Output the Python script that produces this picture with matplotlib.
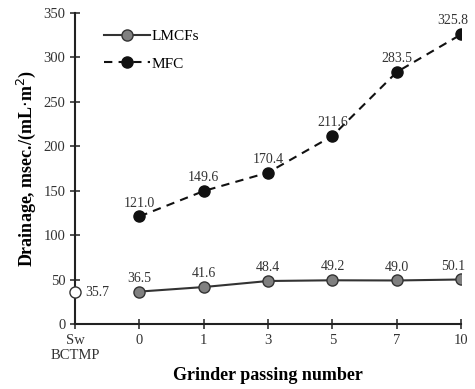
import matplotlib.pyplot as plt

plt.rcParams['font.family'] = ['Liberation Serif', 'DejaVu Serif']

# data
cats = ['Sw\nBCTMP', '0', '1', '3', '5', '7', '10']
lmcf = [36.5, 41.6, 48.4, 49.2, 49.0, 50.1]
mfc = [121.0, 149.6, 170.4, 211.6, 283.5, 325.8]
bctmp = 35.7

fig = plt.figure(figsize=(4.75, 3.89), dpi=100)
ax = fig.add_axes([0.158, 0.167, 0.813, 0.80])

xs = list(range(1, len(cats)))
ax.plot(xs, lmcf, '-o', color='#333333', lw=1.5, ms=8,
        markerfacecolor='#808080', markeredgecolor='#333333', label='LMCFs')
ax.plot(xs, mfc, '--o', color='#111111', lw=1.5, ms=8,
        markerfacecolor='#111111', markeredgecolor='#111111', label='MFC',
        dashes=(4, 3))
ax.plot([0], [bctmp], 'o', ms=8, markerfacecolor='white',
        markeredgecolor='#333333', clip_on=False, zorder=5)

# value labels, the last one nudged left so it stays inside the figure
for serie in (lmcf, mfc):
    for i, (x, v) in enumerate(zip(xs, serie)):
        dx = -6 if i == len(xs) - 1 else 0
        ax.annotate(f'{v:.1f}', (x, v), xytext=(dx, 5), textcoords='offset points',
                    ha='center', va='bottom', fontsize=10, color='#333333')
ax.annotate(f'{bctmp:.1f}', (0, bctmp), xytext=(7, 0), textcoords='offset points',
            ha='left', va='center', fontsize=10, color='#333333')

ax.set_xlim(0, 6)
ax.set_ylim(0, 350)
ax.set_xticks(range(len(cats)))
ax.set_xticklabels(cats)
ax.set_yticks(range(0, 351, 50))
ax.tick_params(direction='inout', length=7, width=1.2, labelsize=10.5,
               colors='#333333')
for s in ['top', 'right']:
    ax.spines[s].set_visible(False)
for s in ['left', 'bottom']:
    ax.spines[s].set_linewidth(1.5)
    ax.spines[s].set_color('#222222')

ax.set_xlabel('Grinder passing number', fontsize=13, fontweight='bold')
ax.set_ylabel('Drainage, msec./(mL$\\cdot$m$^2$)', fontsize=13, fontweight='bold')

ax.legend(loc='upper left', bbox_to_anchor=(0.04, 0.99), frameon=False,
          fontsize=11, handlelength=3, handletextpad=0.1, labelspacing=0.9)

plt.savefig('out.png', dpi=100)
